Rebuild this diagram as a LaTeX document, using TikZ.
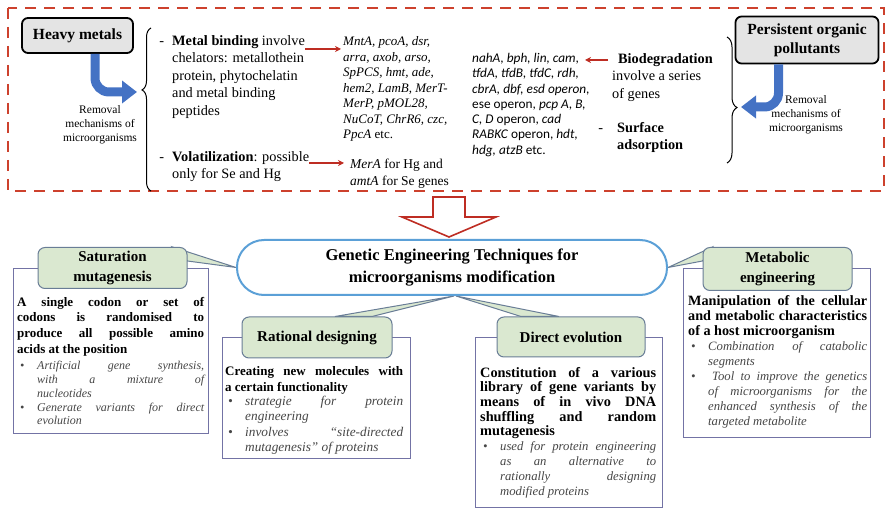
\documentclass[tikz,border=0pt]{standalone}
\usepackage{fontspec}
\setmainfont{Liberation Serif}
\newfontfamily\genefont{Carlito}
\usetikzlibrary{arrows.meta,decorations.pathreplacing}
\definecolor{dashred}{RGB}{205,65,45}
\definecolor{arrred}{RGB}{190,45,35}
\definecolor{boxgray}{RGB}{228,228,228}
\definecolor{arrblue}{RGB}{68,114,196}
\definecolor{hubblue}{RGB}{91,160,215}
\definecolor{taggreen}{RGB}{218,232,208}
\definecolor{tagedge}{RGB}{105,125,150}
\definecolor{paneledge}{RGB}{115,115,165}
\definecolor{itgray}{RGB}{70,70,70}

\pgfdeclarelayer{back}
\pgfsetlayers{back,main}

\newcommand{\bodyb}[2]{\fontsize{#1}{#2}\selectfont\bfseries}
\newcommand{\bodyi}[2]{\fontsize{#1}{#2}\selectfont\mdseries\itshape\color{itgray}}
\newcommand{\bl}{\par\noindent\hangindent=20pt\hangafter=1\hbox to 20pt{\hskip3pt\textbullet\hfil}}

\tikzset{
  frame/.style={draw=dashred, line width=2.8pt, dash pattern=on 11pt off 8pt},
  src/.style={draw=black, line width=1.8pt, fill=boxgray, rounded corners=6pt, align=center, font=\fontsize{15.5}{19}\selectfont\bfseries},
  blue arrow/.style={draw=arrblue, line width=9pt, rounded corners=14pt, -{Triangle[length=15pt,width=22pt]}},
  redarr/.style={draw=arrred, line width=1.6pt, -{Stealth[length=6pt,width=6pt]}},
  note/.style={anchor=north west, inner sep=0pt, align=left, font=\fontsize{14.3}{17.5}\selectfont},
  gene/.style={anchor=north west, inner sep=0pt, align=left, font=\fontsize{13}{15.5}\selectfont\itshape},
  removal/.style={inner sep=0pt, align=center, font=\fontsize{11.5}{14}\selectfont},
  hub/.style={draw=hubblue, line width=2pt, fill=white, rounded corners=27pt, align=center, font=\fontsize{16.5}{22}\selectfont\bfseries},
  tag/.style={fill=taggreen, draw=tagedge, line width=1pt, rounded corners=7pt, align=center, font=\fontsize{15}{19.5}\selectfont\bfseries},
  panel/.style={draw=paneledge, line width=1.3pt, fill=white, anchor=north west, inner sep=0pt},
  body/.style={anchor=north west, inner sep=0pt, align=justify},
  tail/.style={fill=taggreen, draw=tagedge, line width=1pt}
}

\begin{document}
\begin{tikzpicture}[x=1pt, y=-1pt]
    \useasboundingbox (0,0) rectangle (889,510);
    \draw[frame] (8,8) rectangle (884,191);

    % heavy metals side
    \node[src, minimum width=111pt, minimum height=35pt] (hm) at (77.5,35.5) {Heavy metals};
    \coordinate (ltip) at (137,92);
    \draw[blue arrow] ([xshift=17.5pt]hm.south) |- (ltip);
    \node[removal] (rmL) at (100,125) {Removal\\mechanisms of\\microorganisms};
    \draw[decorate, decoration={brace, amplitude=9pt, aspect=0.62}, line width=1pt] (151,191) -- (151,28);
    \node[note] (mb) at (172,35) {\llap{-\hspace{8pt}}\textbf{Metal binding} involve\\chelators: metallothein\\protein, phytochelatin\\and metal binding\\peptides};
    \node[note] (vol) at (172,151) {\llap{-\hspace{8pt}}\textbf{Volatilization}: possible\\only for Se and Hg};
    \node[gene] (g1) at (343,36.5) {MntA, pcoA, dsr,\\arra, axob, arso,\\SpPCS, hmt, ade,\\hem2, LamB, MerT-\\MerP, pMOL28,\\NuCoT, ChrR6, czc,\\PpcA \textup{etc.}};
    \node[gene, font=\fontsize{13.5}{17}\selectfont] (mera) at (350,158.5) {\textit{MerA} for Hg and\\\textit{amtA} for Se genes};
    \coordinate (m1) at ([yshift=-14pt]mb.north east);
    \draw[redarr, shorten >=2pt] (m1) -- (m1 -| g1.west);
    \coordinate (v1) at ([yshift=-12pt]vol.north east);
    \draw[redarr, shorten >=6pt] (v1) -- (v1 -| mera.west);

    % organic pollutants side
    \node[src, minimum width=143pt, minimum height=47pt] (pop) at (807,40) {Persistent organic\\pollutants};
    \coordinate (rtip) at (741,107);
    \draw[blue arrow] ([xshift=-28.5pt]pop.south) |- (rtip);
    \node[removal] (rmR) at (806,115) {Removal\\mechanisms of\\microorganisms};
    \draw[decorate, decoration={brace, amplitude=10pt, aspect=0.56}, line width=1pt] (727,37) -- (727,163);
    \node[gene, font=\fontsize{13.3}{15.3}\selectfont\genefont\itshape] (g3) at (472,53) {nahA, bph, lin, cam,\\tfdA, tfdB, tfdC, rdh,\\cbrA, dbf, esd operon,\\\textup{ese operon,} pcp A, B,\\C, D \textup{operon,} cad\\RABKC \textup{operon,} hdt,\\hdg, atzB \textup{etc.}};
    \node[note] (bio) at (612,53) {\llap{-\hspace{9pt}}\hspace{6pt}\textbf{Biodegradation}\\involve a series\\of genes};
    \node[note] (sa) at (617,122) {\llap{-\hspace{14pt}}\textbf{Surface}\\\textbf{adsorption}};
    \coordinate (b1) at ([xshift=-4pt,yshift=-7pt]bio.north west);
    \draw[redarr] (b1) -- ([xshift=-27pt,yshift=-7pt]bio.north west);

    % hollow arrow down to the techniques
    \draw[draw=arrred, line width=1.6pt, fill=white] (433,197) -- (465,197) -- (465,217) -- (496,217) -- (449,237) -- (402,217) -- (433,217) -- cycle;
    \node[hub, minimum width=430pt, minimum height=55pt] (get) at (452,267.5) {Genetic Engineering Techniques for\\microorganisms modification};

    % technique panels
    \begin{pgfonlayer}{back}
        \node[panel, minimum width=195pt, minimum height=165pt] (satP) at (13,268) {};
        \node[panel, minimum width=188pt, minimum height=121pt] (ratP) at (222,337) {};
        \node[panel, minimum width=187pt, minimum height=170pt] (dirP) at (475,337) {};
        \node[panel, minimum width=187pt, minimum height=169pt] (metP) at (683,268) {};
    \end{pgfonlayer}
    \node[tag, minimum width=149pt, minimum height=41pt] (satT) at (112.5,268) {Saturation\\mutagenesis};
    \node[tag, minimum width=150pt, minimum height=41pt] (ratT) at (317,337.5) {Rational designing};
    \node[tag, minimum width=148pt, minimum height=40pt] (dirT) at (571,337) {Direct evolution};
    \node[tag, minimum width=149pt, minimum height=43pt] (metT) at (777.5,269) {Metabolic\\engineering};
    \begin{pgfonlayer}{back}
        \draw[tail] ([xshift=-15pt]satT.north east) -- (get.west) -- ([yshift=-14pt]satT.north east) -- cycle;
        \draw[tail] ([xshift=18pt]ratT.north) -- ([xshift=2pt]get.south) -- ([xshift=55pt]ratT.north) -- cycle;
        \draw[tail] ([xshift=-50pt]dirT.north) -- ([xshift=4pt]get.south) -- ([xshift=-12pt]dirT.north) -- cycle;
        \draw[tail] ([xshift=10pt]metT.north west) -- (get.east) -- ([yshift=-14pt]metT.north west) -- cycle;
    \end{pgfonlayer}

    \node[body, text width=187pt] (satB) at (17,297) {{\bodyb{13}{15.6}\noindent A single codon or set of\linebreak codons is randomised to\linebreak produce all possible amino\linebreak acids at the position\par}\vspace{2.9pt}
        \bodyi{12}{13.75}\bl Artificial gene synthesis,\linebreak with a mixture of\linebreak nucleotides\bl Generate variants for direct\linebreak evolution\par};
    \node[body, text width=178pt] (ratB) at (225,366) {{\bodyb{13}{16.7}\noindent Creating new molecules with\linebreak a certain functionality\par}\vspace{-2.2pt}
        \bodyi{13.3}{15.5}\bl strategie for protein\linebreak engineering\bl involves “site-directed\linebreak mutagenesis” of proteins\par};
    \node[body, text width=176pt] (dirB) at (480,367) {{\bodyb{14.3}{14.6}\noindent Constitution of a various\linebreak library of gene variants by\linebreak means of in vivo DNA\linebreak shuffling and random\linebreak mutagenesis\par}
        \bodyi{12.7}{15}\bl used for protein engineering\linebreak as an alternative to\linebreak rationally designing\linebreak modified proteins\par};
    \node[body, text width=179pt] (metB) at (688,295) {{\bodyb{14.2}{15}\noindent Manipulation of the cellular\linebreak and metabolic characteristics\linebreak of a host microorganism\par}
        \bodyi{12.7}{15}\bl Combination of catabolic\linebreak segments\bl\hspace{4pt}Tool to improve the genetics\linebreak of microorganisms for the\linebreak enhanced synthesis of the\linebreak targeted metabolite\par};
\end{tikzpicture}
\end{document}
